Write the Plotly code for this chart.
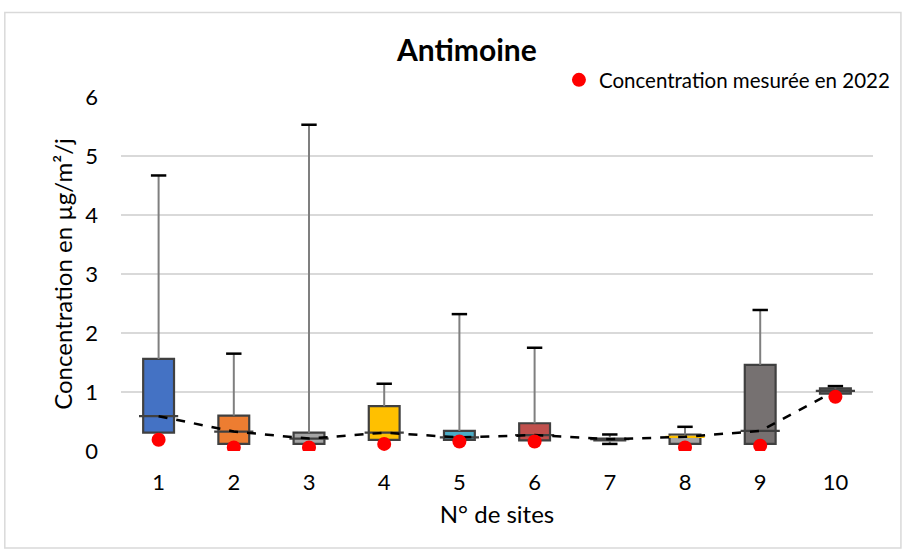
import plotly.graph_objects as go

sites = [1, 2, 3, 4, 5, 6, 7, 8, 9, 10]
tick_labels = ["1", "2", "3", "4", "5", "6", "7", "8", "9", "10"]
q1 = [0.31, 0.12, 0.12, 0.19, 0.19, 0.18, 0.18, 0.12, 0.12, 0.97]
median = [0.59, 0.33, 0.21, 0.31, 0.23, 0.27, 0.20, 0.24, 0.34, 1.02]
q3 = [1.56, 0.60, 0.31, 0.76, 0.34, 0.47, 0.21, 0.28, 1.46, 1.06]
wmin = [0.31, 0.12, 0.12, 0.19, 0.19, 0.18, 0.12, 0.12, 0.12, 0.97]
wmax = [4.67, 1.65, 5.53, 1.14, 2.32, 1.75, 0.28, 0.41, 2.39, 1.10]
mesure_2022 = [0.19, 0.06, 0.06, 0.12, 0.16, 0.16, None, 0.06, 0.09, 0.92]
box_colors = ["#4472C4", "#ED7D31", "#A5A5A5", "#FFC000", "#4BACC6",
              "#C0504D", "#7F7F7F", "#A5A5A5", "#767171", "#595959"]
median_colors = ["#404040"] * 7 + ["#FFC000", "#404040", "#404040"]

W, H = 907, 549
L, R, T, B = 121, 907 - 875, 97, 549 - 451
pw, ph = W - L - R, H - T - B

def px(x):
    return (x - L) / pw

def py(y):
    return (H - B - y) / ph

fig = go.Figure()

# whiskers (vertical segments outside the boxes)
wx, wy = [], []
for i, s in enumerate(sites):
    wx += [s, s, None]
    wy += [q3[i], wmax[i], None]
    if wmin[i] < q1[i]:
        wx += [s, s, None]
        wy += [wmin[i], q1[i], None]
fig.add_trace(go.Scatter(x=wx, y=wy, mode="lines",
                         line=dict(color="#7F7F7F", width=2),
                         showlegend=False, hoverinfo="skip"))
# caps
fig.add_trace(go.Scatter(x=sites, y=wmax, mode="markers",
                         marker=dict(symbol="line-ew", size=11,
                                     line=dict(color="#000000", width=2.5)),
                         showlegend=False, hoverinfo="skip"))
low_caps_x = [s for i, s in enumerate(sites) if wmin[i] < q1[i]]
low_caps_y = [wmin[i] for i, s in enumerate(sites) if wmin[i] < q1[i]]
fig.add_trace(go.Scatter(x=low_caps_x, y=low_caps_y, mode="markers",
                         marker=dict(symbol="line-ew", size=11,
                                     line=dict(color="#000000", width=2.5)),
                         showlegend=False, hoverinfo="skip"))

# boxes
fig.add_trace(go.Bar(x=sites, y=[q3[i] - q1[i] for i in range(10)], base=q1,
                     width=0.41,
                     marker=dict(color=box_colors,
                                 line=dict(color="#404040", width=2.2)),
                     showlegend=False, hoverinfo="skip"))
# medians
fig.add_trace(go.Scatter(x=sites, y=median, mode="markers",
                         marker=dict(symbol="line-ew", size=28,
                                     line=dict(color=median_colors, width=2.2)),
                         showlegend=False, hoverinfo="skip"))
# dashed line through medians
fig.add_trace(go.Scatter(x=sites, y=median, mode="lines",
                         line=dict(color="#000000", width=2.5, dash="dash"),
                         showlegend=False, hoverinfo="skip"))
# 2022 measurements
fig.add_trace(go.Scatter(x=sites, y=mesure_2022, mode="markers",
                         name="Concentration mesurée en 2022",
                         marker=dict(color="#FF0000", size=14),
                         showlegend=True))

font_family = "Lato"
fig.update_layout(
    width=W, height=H,
    margin=dict(l=L, r=R, t=T, b=B),
    paper_bgcolor="white", plot_bgcolor="white",
    font=dict(family=font_family, color="#000000"),
    barmode="overlay",
    xaxis=dict(range=[0.5, 10.5], tickmode="array", tickvals=sites,
               ticktext=tick_labels, showgrid=False, zeroline=False,
               showline=False, ticks="", tickfont=dict(size=22),
               ticklabelstandoff=16,
               title=dict(text="N° de sites", font=dict(size=24), standoff=12)),
    yaxis=dict(range=[0, 6], dtick=1, showgrid=True, gridcolor="#D9D9D9",
               gridwidth=2, zeroline=False, showline=False, ticks="",
               tickfont=dict(size=22), ticklabelstandoff=22,
               title=dict(text="Concentration en µg/m²/j", font=dict(size=24),
                          standoff=5)),
    legend=dict(x=px(897), xanchor="right", y=py(60), yanchor="top",
                font=dict(size=20.5), bgcolor="rgba(0,0,0,0)",
                itemwidth=30),
    showlegend=True,
    annotations=[dict(text="<b>Antimoine</b>", x=px(467), y=py(49),
                      xref="paper", yref="paper", showarrow=False,
                      xanchor="center", yanchor="middle",
                      font=dict(size=30, family=font_family))],
    shapes=[dict(type="rect", xref="paper", yref="paper",
                 x0=px(4.5), x1=px(903), y0=py(548), y1=py(12.5),
                 line=dict(color="#D9D9D9", width=1.5), layer="below")],
)

fig.write_html("out.html")
